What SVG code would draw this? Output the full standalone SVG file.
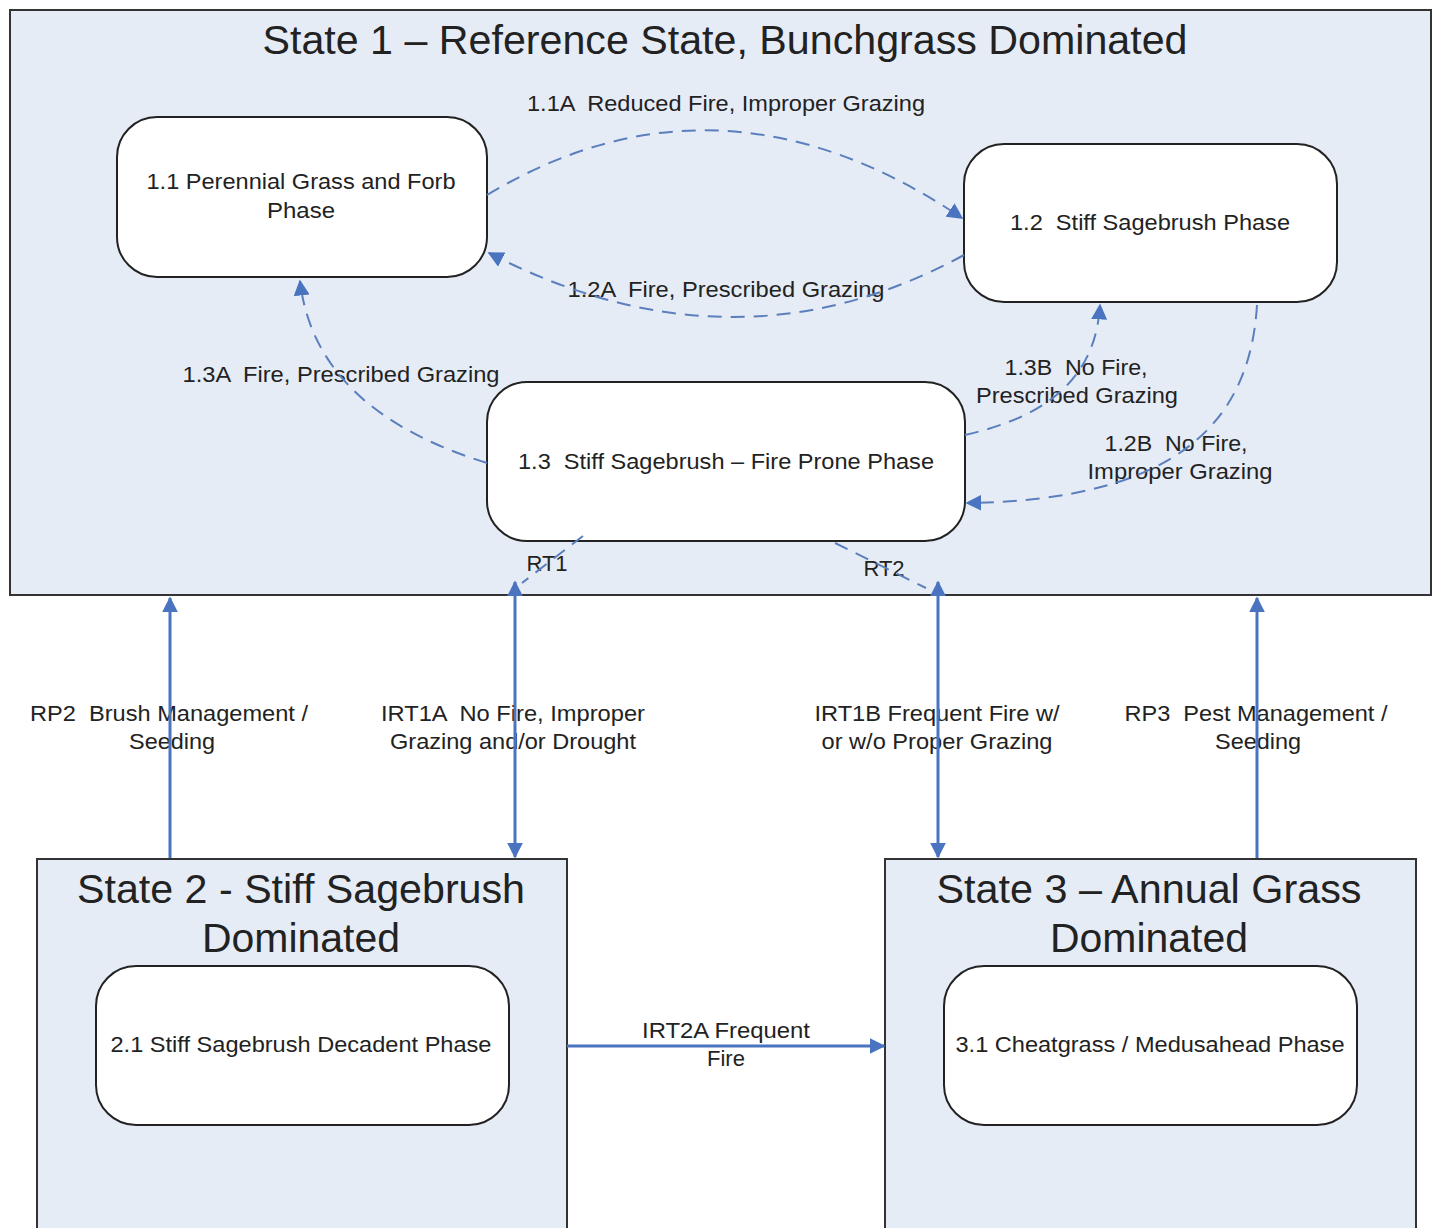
<svg xmlns="http://www.w3.org/2000/svg" width="1433" height="1228" viewBox="0 0 1433 1228" xml:space="preserve">
<style>
.state{fill:#e6ecf6;stroke:#333;stroke-width:2}
.phase{fill:#fff;stroke:#222;stroke-width:2}
.t{font-family:"Liberation Sans",Arial,sans-serif;fill:#222;text-anchor:middle;white-space:pre}
.big{font-size:40px}
.lbl{font-size:22px}
.dash{fill:none;stroke:#5b7fbd;stroke-width:2;stroke-dasharray:14,9}
.solid{fill:none;stroke:#4a74c0;stroke-width:3}
</style>
<defs>
<marker id="ah" viewBox="0 0 10 10" refX="9" refY="5" markerWidth="16" markerHeight="16" markerUnits="userSpaceOnUse" orient="auto-start-reverse">
<path d="M0,0 L10,5 L0,10 z" fill="#4a74c0"/>
</marker>
</defs>
<rect width="1433" height="1228" fill="#fff"/>
<g id="state1">
<rect class="state" x="10" y="10" width="1421" height="585"/>
<text class="t big" x="725" y="54" textLength="925" lengthAdjust="spacingAndGlyphs">State 1 – Reference State, Bunchgrass Dominated</text>
</g>
<g id="state2">
<rect class="state" x="37" y="859" width="530" height="380"/>
<text class="t big" x="301" y="903" textLength="448" lengthAdjust="spacingAndGlyphs">State 2 - Stiff Sagebrush</text>
<text class="t big" x="301" y="952" textLength="198" lengthAdjust="spacingAndGlyphs">Dominated</text>
</g>
<g id="state3">
<rect class="state" x="885" y="859" width="531" height="380"/>
<text class="t big" x="1149" y="903" textLength="425" lengthAdjust="spacingAndGlyphs">State 3 – Annual Grass</text>
<text class="t big" x="1149" y="952" textLength="198" lengthAdjust="spacingAndGlyphs">Dominated</text>
</g>
<g id="n11">
<rect class="phase" x="117" y="117" width="370" height="160" rx="40"/>
<text class="t lbl" x="301" y="189" textLength="309" lengthAdjust="spacingAndGlyphs">1.1 Perennial Grass and Forb</text>
<text class="t lbl" x="301" y="218" textLength="68" lengthAdjust="spacingAndGlyphs">Phase</text>
</g>
<g id="n12">
<rect class="phase" x="964" y="144" width="373" height="158" rx="40"/>
<text class="t lbl" x="1150" y="230" textLength="280" lengthAdjust="spacingAndGlyphs">1.2  Stiff Sagebrush Phase</text>
</g>
<g id="n13">
<rect class="phase" x="487" y="382" width="478" height="159" rx="40"/>
<text class="t lbl" x="726" y="469" textLength="416" lengthAdjust="spacingAndGlyphs">1.3  Stiff Sagebrush – Fire Prone Phase</text>
</g>
<g id="n21">
<rect class="phase" x="96" y="966" width="413" height="159" rx="40"/>
<text class="t lbl" x="301" y="1052" textLength="381" lengthAdjust="spacingAndGlyphs">2.1 Stiff Sagebrush Decadent Phase</text>
</g>
<g id="n31">
<rect class="phase" x="944" y="966" width="413" height="159" rx="40"/>
<text class="t lbl" x="1150" y="1052" textLength="389" lengthAdjust="spacingAndGlyphs">3.1 Cheatgrass / Medusahead Phase</text>
</g>
<g id="labels">
<text class="t lbl" x="726" y="111" textLength="398" lengthAdjust="spacingAndGlyphs">1.1A  Reduced Fire, Improper Grazing</text>
<text class="t lbl" x="726" y="297" textLength="317" lengthAdjust="spacingAndGlyphs">1.2A  Fire, Prescribed Grazing</text>
<text class="t lbl" x="341" y="382" textLength="317" lengthAdjust="spacingAndGlyphs">1.3A  Fire, Prescribed Grazing</text>
<text class="t lbl" x="1076" y="375" textLength="143" lengthAdjust="spacingAndGlyphs">1.3B  No Fire,</text>
<text class="t lbl" x="1077" y="403" textLength="202" lengthAdjust="spacingAndGlyphs">Prescribed Grazing</text>
<text class="t lbl" x="1176" y="451" textLength="143" lengthAdjust="spacingAndGlyphs">1.2B  No Fire,</text>
<text class="t lbl" x="1180" y="479" textLength="185" lengthAdjust="spacingAndGlyphs">Improper Grazing</text>
<text class="t lbl" x="547" y="571">RT1</text>
<text class="t lbl" x="884" y="576">RT2</text>
<text class="t lbl" x="169" y="721" textLength="278" lengthAdjust="spacingAndGlyphs">RP2  Brush Management /</text>
<text class="t lbl" x="172" y="749" textLength="86" lengthAdjust="spacingAndGlyphs">Seeding</text>
<text class="t lbl" x="513" y="721" textLength="264" lengthAdjust="spacingAndGlyphs">IRT1A  No Fire, Improper</text>
<text class="t lbl" x="513" y="749" textLength="246" lengthAdjust="spacingAndGlyphs">Grazing and/or Drought</text>
<text class="t lbl" x="937" y="721" textLength="245" lengthAdjust="spacingAndGlyphs">IRT1B Frequent Fire w/</text>
<text class="t lbl" x="937" y="749" textLength="231" lengthAdjust="spacingAndGlyphs">or w/o Proper Grazing</text>
<text class="t lbl" x="1256" y="721" textLength="263" lengthAdjust="spacingAndGlyphs">RP3  Pest Management /</text>
<text class="t lbl" x="1258" y="749" textLength="86" lengthAdjust="spacingAndGlyphs">Seeding</text>
<text class="t lbl" x="726" y="1038" textLength="168" lengthAdjust="spacingAndGlyphs">IRT2A Frequent</text>
<text class="t lbl" x="726" y="1066">Fire</text>
</g>
<g id="connectors">
<path class="dash" d="M487,195 Q720,55 962,218" marker-end="url(#ah)"/>
<path class="dash" d="M964,255 Q735,380 489,253" marker-end="url(#ah)"/>
<path class="dash" d="M487,463 Q315,410 300,281" marker-end="url(#ah)"/>
<path class="dash" d="M965,435 C1030,420 1095,390 1100,305" marker-end="url(#ah)"/>
<path class="dash" d="M1257,305 C1250,420 1180,500 967,503" marker-end="url(#ah)"/>
<path class="dash" d="M583,536 L522,583"/>
<path class="dash" d="M835,543 L926,588"/>
<path class="solid" d="M170,858 L170,598" marker-end="url(#ah)"/>
<path class="solid" d="M515,582 L515,857" marker-start="url(#ah)" marker-end="url(#ah)"/>
<path class="solid" d="M938,582 L938,857" marker-start="url(#ah)" marker-end="url(#ah)"/>
<path class="solid" d="M1257,858 L1257,598" marker-end="url(#ah)"/>
<path class="solid" d="M567,1046 L884,1046" marker-end="url(#ah)"/>
</g>
</svg>
